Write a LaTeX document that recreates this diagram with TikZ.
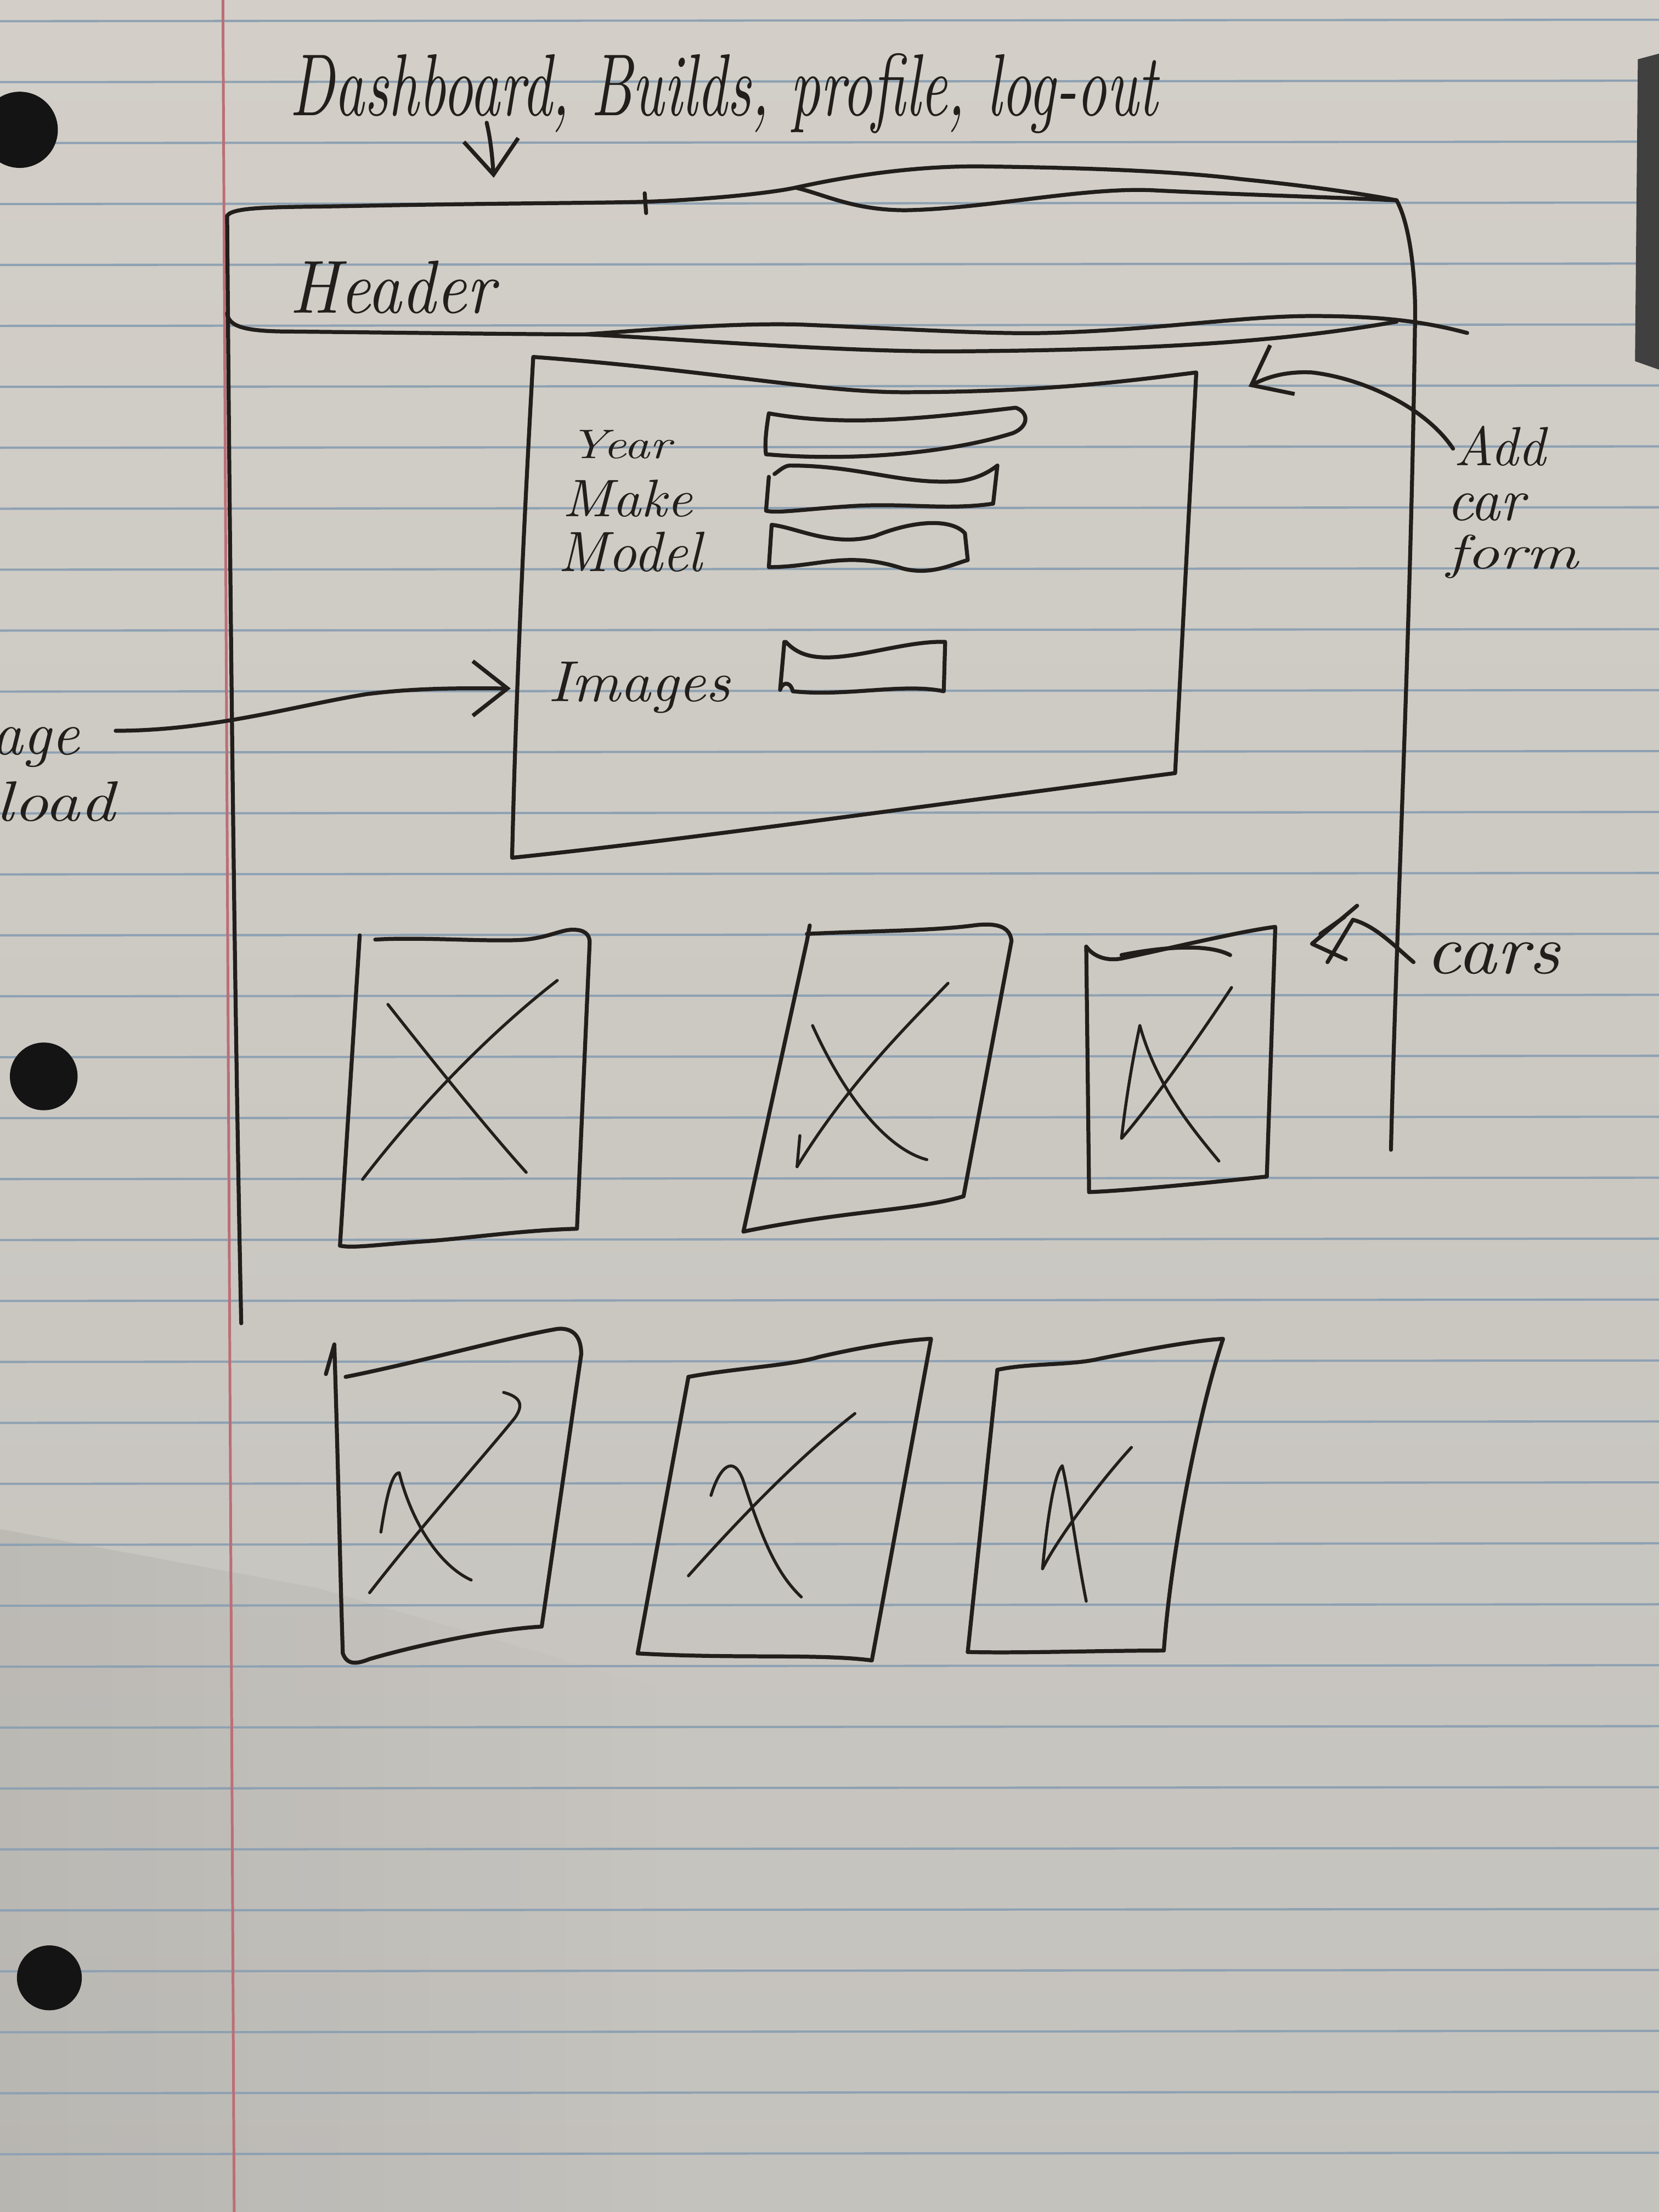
\documentclass[tikz,border=0pt]{standalone}
\usetikzlibrary{arrows.meta,calc,fadings}
\newlength\pxu
\setlength\pxu{0.01cm}
% handwritten word squeezed into a given width and height
\newcommand\scribble[3]{\resizebox{#1\pxu}{#2\pxu}{\itshape #3}}
\definecolor{ink}{HTML}{221E1B}
\definecolor{papertop}{HTML}{D3CFC8}
\definecolor{paperbot}{HTML}{C4C2BD}
\definecolor{ruleblue}{HTML}{8EA1B2}
\definecolor{marginred}{HTML}{BC6E76}
\begin{document}
\begin{tikzpicture}[x=0.01cm,y=-0.01cm,
  pen/.style={draw=ink,line width=0.8pt,line cap=round,line join=round},
  fine/.style={pen,line width=0.6pt},
  penarrow/.style={pen,-{Straight Barb[length=7pt,width=11pt,line width=0.8pt]}},
  handtext/.style={inner sep=0pt,text=ink,anchor=base west},
  ruling/.style={draw=ruleblue,line width=0.45pt},
  hole/.style={fill=black!92},
]
\useasboundingbox (0,0) rectangle (1176,1568);

% sheet of ruled paper
\shade[top color=papertop,bottom color=paperbot] (0,0) rectangle (1176,1568);
% soft shadow over the lower left of the sheet
\fill[black,opacity=0.06,path fading=east] (0,1084) -- (226,1126) -- (480,1200) -- (480,1568) -- (0,1568) -- cycle;
\foreach \k in {0,...,36}
  \draw[ruling] (0,{15+43.2*\k}) -- (1176,{14+43.2*\k});
\draw[draw=marginred,line width=0.55pt] (158,0) -- (166,1568);
\fill[hole] (14,92) circle[radius=27];
\fill[hole] (31,763) circle[radius=24];
\fill[hole] (35,1402) circle[radius=23];
\fill[black!75] (1161,42) -- (1176,38) -- (1176,262) -- (1159,256) -- cycle;

% page frame: top edge drawn twice
\draw[pen] (161,153) .. controls (165,146) and (200,147) .. (250,146)
  .. controls (350,144) and (420,144) .. (457,143)
  .. controls (490,142) and (540,138) .. (564,133)
  .. controls (585,138) and (605,149) .. (642,149)
  .. controls (700,148) and (770,132) .. (820,135)
  .. controls (880,138) and (950,140) .. (990,142);
\draw[pen] (457,137) -- (458,151);
\draw[pen] (564,133) .. controls (600,125) and (650,117) .. (700,118)
  .. controls (780,119) and (840,122) .. (880,127)
  .. controls (930,132) and (970,138) .. (990,142);
% side edges
\draw[pen] (161,153) .. controls (163,400) and (166,700) .. (171,938);
\draw[pen] (990,142) .. controls (1000,160) and (1004,200) .. (1003,232)
  .. controls (1000,450) and (990,650) .. (986,815);
% header underline, drawn twice in the middle
\draw[pen] (161,222) .. controls (162,232) and (175,235) .. (207,235)
  .. controls (300,236) and (380,237) .. (415,237)
  .. controls (470,233) and (520,229) .. (566,230)
  .. controls (640,233) and (700,237) .. (742,236)
  .. controls (820,234) and (880,224) .. (930,224)
  .. controls (980,224) and (1010,228) .. (1040,236);
\draw[pen] (415,237) .. controls (480,240) and (600,250) .. (683,249)
  .. controls (800,248) and (900,244) .. (990,228);

% add-car form
\draw[pen] (378,253) .. controls (500,262) and (580,278) .. (640,278)
  .. controls (740,278) and (800,270) .. (848,264)
  -- (833,548)
  .. controls (650,572) and (480,596) .. (363,608)
  .. controls (366,480) and (372,360) .. (378,253);

% input fields
\draw[pen] (545,293) .. controls (543,305) and (542,315) .. (543,322)
  .. controls (600,327) and (670,322) .. (718,307)
  .. controls (730,302) and (729,292) .. (720,289)
  .. controls (660,296) and (600,303) .. (545,293);
\draw[pen] (549,336) .. controls (552,334) and (556,330) .. (560,330)
  .. controls (610,330) and (640,344) .. (680,341)
  .. controls (695,339) and (703,333) .. (707,330)
  -- (704,357)
  .. controls (670,362) and (640,356) .. (600,359)
  .. controls (570,361) and (550,364) .. (543,362)
  -- (545,338);
\draw[pen] (547,372) -- (545,402)
  .. controls (580,402) and (600,390) .. (640,403)
  .. controls (660,408) and (675,400) .. (686,397)
  -- (684,378)
  .. controls (675,368) and (650,368) .. (620,380)
  .. controls (590,388) and (565,374) .. (547,372);
\draw[pen] (556,455) -- (553,489) .. controls (554,484) and (560,482) .. (562,490)
  .. controls (600,494) and (640,484) .. (669,490)
  -- (670,455)
  .. controls (640,454) and (600,470) .. (575,465)
  .. controls (565,463) and (560,458) .. (557,455);

% car cards, first row
\draw[pen] (255,663) -- (241,883);
\draw[pen] (266,666) .. controls (300,664) and (350,668) .. (373,666)
  .. controls (390,664) and (398,659) .. (406,659)
  .. controls (414,659) and (418,662) .. (418,668)
  -- (409,871)
  .. controls (370,872) and (330,878) .. (300,880)
  .. controls (270,882) and (250,885) .. (241,883);
\draw[fine] (275,712) .. controls (305,750) and (345,800) .. (373,831);
\draw[fine] (257,836) .. controls (300,780) and (350,730) .. (395,695);

\draw[pen] (574,656) -- (572,667) -- (527,873);
\draw[pen] (572,662) .. controls (610,660) and (660,660) .. (690,656)
  .. controls (705,654) and (716,656) .. (717,667)
  -- (683,848)
  .. controls (650,858) and (600,858) .. (527,873);
\draw[fine] (576,727) .. controls (600,780) and (630,815) .. (657,822);
\draw[fine] (565,827) .. controls (600,770) and (640,730) .. (672,697);
\draw[fine] (567,805) -- (565,827);

\draw[pen] (770,671) -- (772,845);
\draw[pen] (770,671) .. controls (775,678) and (785,682) .. (797,679)
  .. controls (830,672) and (880,660) .. (904,657)
  -- (898,834)
  .. controls (860,838) and (800,844) .. (772,845);
\draw[pen] (795,677) .. controls (820,672) and (855,668) .. (872,677);
\draw[fine] (873,700) .. controls (840,750) and (810,790) .. (795,807)
  .. controls (798,780) and (803,750) .. (808,727)
  .. controls (820,770) and (845,800) .. (864,823);

% car cards, second row
\draw[pen] (231,974) -- (237,953) .. controls (240,1050) and (241,1110) .. (243,1172);
\draw[pen] (243,1172) .. controls (246,1180) and (252,1180) .. (262,1176)
  .. controls (300,1165) and (350,1155) .. (384,1153)
  -- (412,960)
  .. controls (412,946) and (405,941) .. (395,942)
  .. controls (360,948) and (300,965) .. (245,976);
\draw[fine] (262,1129) .. controls (300,1080) and (345,1030) .. (365,1005)
  .. controls (372,995) and (368,990) .. (357,987);
\draw[fine] (270,1086) .. controls (274,1060) and (278,1044) .. (283,1044)
  .. controls (292,1080) and (312,1110) .. (334,1120);

\draw[pen] (488,976) -- (452,1172);
\draw[pen] (488,976) .. controls (520,970) and (560,968) .. (580,962)
  .. controls (610,955) and (640,950) .. (660,949)
  -- (618,1177)
  .. controls (580,1172) and (520,1176) .. (452,1172);
\draw[fine] (488,1117) .. controls (530,1070) and (570,1030) .. (606,1002);
\draw[fine] (504,1060) .. controls (510,1040) and (520,1030) .. (527,1050)
  .. controls (540,1090) and (550,1115) .. (568,1132);

\draw[pen] (707,971) -- (686,1171);
\draw[pen] (707,971) .. controls (730,966) and (760,968) .. (780,963)
  .. controls (820,955) and (850,950) .. (867,949)
  .. controls (850,1000) and (830,1100) .. (825,1170)
  .. controls (780,1170) and (720,1172) .. (686,1171);
\draw[fine] (802,1026) .. controls (780,1050) and (750,1090) .. (739,1112)
  .. controls (742,1080) and (747,1045) .. (753,1039)
  .. controls (758,1060) and (763,1100) .. (770,1135);

% handwritten labels
\node[handtext] (dash) at (205,82) {\scribble{615}{44}{Dashboard, Builds, profile, log-out}};
\node[handtext] (hdr) at (205,222) {\scribble{145}{37}{Header}};
\node[handtext] (year) at (403,325) {\scribble{72}{20}{Year}};
\node[handtext] (make) at (398,366) {\scribble{92}{26}{Make}};
\node[handtext] (model) at (395,405) {\scribble{102}{28}{Model}};
\node[handtext] (images) at (388,497) {\scribble{129}{28}{Images}};
\node[handtext,anchor=base east] (imgtxt) at (57,535) {\scribble{115}{30}{Image}};
\node[handtext,anchor=base east] (upltxt) at (82,582) {\scribble{135}{28}{upload}};
\node[handtext] (addtxt) at (1030,330) {\scribble{65}{28}{Add}};
\node[handtext] (cartxt) at (1025,369) {\scribble{55}{19}{car}};
\node[handtext] (formtxt) at (1025,403) {\scribble{93}{24}{form}};
\node[handtext] (carstxt) at (1010,690) {\scribble{95}{22}{cars}};

% callout arrows
\coordinate (navtip) at (350,126);
\coordinate (imgtip) at (362,488);
\coordinate (formtip) at (885,274);
\coordinate (carstip) at (930,669);
\draw[penarrow] ($(dash.base west)+(140,5)$) .. controls (348,100) and (349,112) .. (navtip);
\draw[penarrow] ($(imgtxt.base east)+(25,-17)$) .. controls (150,518) and (210,500) .. (260,492)
  .. controls (300,487) and (335,488) .. (imgtip);
\draw[penarrow] ($(addtxt.base west)+(0,-12)$) .. controls (1010,288) and (965,268) .. (930,264)
  .. controls (910,263) and (897,268) .. (formtip);
% scribbled arrowhead pointing at the cards
\draw[pen] ($(carstxt.base west)+(-8,-8)$) .. controls (990,672) and (975,656) .. (959,652) -- (941,682);
\draw[pen] (962,642) -- (carstip) -- (954,680);
\draw[pen] (936,662) -- (953,650);
\end{tikzpicture}
\end{document}
